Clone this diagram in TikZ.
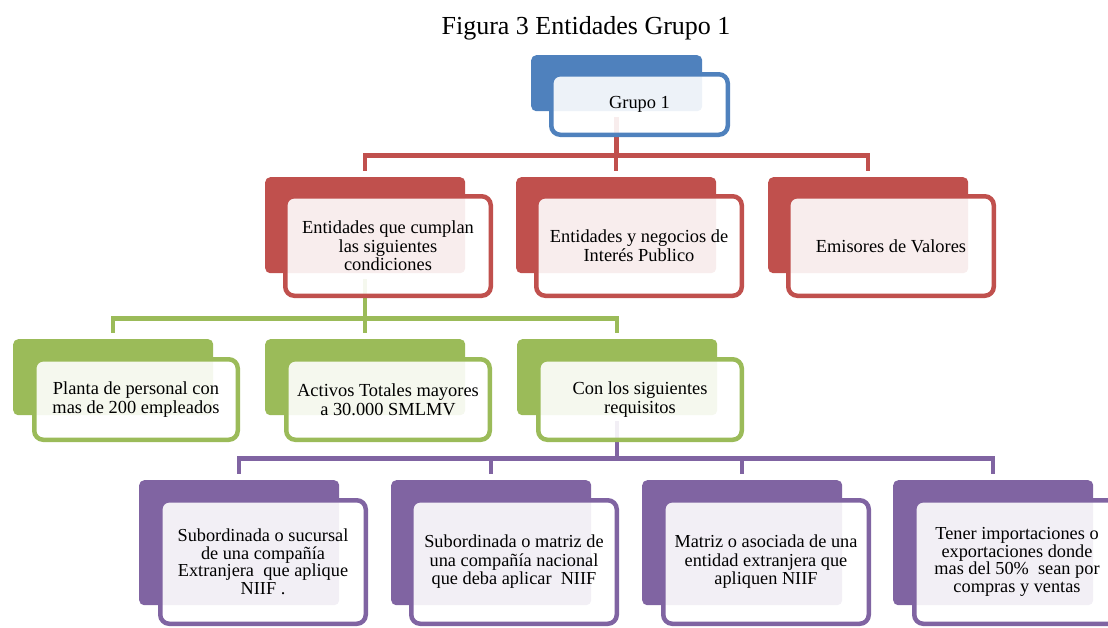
\documentclass[tikz,border=0pt]{standalone}
\usepackage{fontspec}
\setmainfont{Liberation Serif}
\definecolor{cblue}{HTML}{4F81BD}
\definecolor{cred}{HTML}{C0504D}
\definecolor{cgreen}{HTML}{9BBB59}
\definecolor{cpurple}{HTML}{8064A2}
\tikzset{
  backbox/.style={draw=none, fill=#1, rounded corners=5pt, anchor=north west, inner sep=0pt},
  frontbox/.style={draw=#1, line width=4.5pt, fill=white, fill opacity=0.9, text opacity=1,
    draw opacity=1, rounded corners=9pt, inner sep=0pt, align=center},
  conn/.style={draw=#1, line width=4.5pt},
  lvla/.style={minimum width=176.5pt, minimum height=60.5pt},
  lvlb/.style={minimum width=205.5pt, minimum height=99.5pt, font=\fontsize{18.4}{18.6}\selectfont},
  lvlc/.style={minimum width=203.5pt, minimum height=80.5pt, font=\fontsize{18.4}{18.6}\selectfont},
  lvld/.style={minimum width=205.5pt, minimum height=123.5pt, font=\fontsize{18.3}{17.5}\selectfont},
}
\begin{document}
\begin{tikzpicture}[x=1pt,y=-1pt]
\useasboundingbox (0,0) rectangle (1108,627);
\clip (0,0) rectangle (1108,627);
% title
\node[font=\fontsize{26}{30}\selectfont, anchor=base] (title) at (586,34) {Figura 3 Entidades Grupo 1};
% back boxes
\node[backbox=cblue, minimum width=171pt, minimum height=56pt] (gb) at (531,55) {};
\node[backbox=cred, minimum width=200pt, minimum height=96pt] (r1b) at (265,177) {};
\node[backbox=cred, minimum width=200pt, minimum height=96pt] (r2b) at (516,177) {};
\node[backbox=cred, minimum width=200pt, minimum height=96pt] (r3b) at (768,177) {};
\node[backbox=cgreen, minimum width=200pt, minimum height=76pt] (g1b) at (13,339) {};
\node[backbox=cgreen, minimum width=200pt, minimum height=76pt] (g2b) at (265,339) {};
\node[backbox=cgreen, minimum width=200pt, minimum height=76pt] (g3b) at (517,339) {};
\node[backbox=cpurple, minimum width=200pt, minimum height=125pt] (p1b) at (139,480) {};
\node[backbox=cpurple, minimum width=200pt, minimum height=125pt] (p2b) at (391,480) {};
\node[backbox=cpurple, minimum width=200pt, minimum height=125pt] (p3b) at (642,480) {};
\node[backbox=cpurple, minimum width=200pt, minimum height=125pt] (p4b) at (893,480) {};
% connectors
\foreach \c in {r1b,r2b,r3b}
  \draw[conn=cred] ([yshift=-6pt]gb.south) -- ++(0,38) -| ([yshift=6pt]\c.north);
\foreach \c in {g1b,g2b,g3b}
  \draw[conn=cgreen] ([yshift=-6pt]r1b.south) -- ++(0,39) -| ([yshift=6pt]\c.north);
\foreach \c in {p1b,p2b,p3b,p4b}
  \draw[conn=cpurple] ([yshift=-6pt]g3b.south) -- ++(0,37) -| ([yshift=6pt]\c.north);
% front boxes
\node[frontbox=cblue, lvla, font=\fontsize{18.4}{18.6}\selectfont] (g) at (639.5,104.5) {Grupo 1};
\node[frontbox=cred, lvlb] (r1) at (388,246) {Entidades que cumplan\\las siguientes\\condiciones};
\node[frontbox=cred, lvlb] (r2) at (639,246) {Entidades y negocios de\\Interés Publico};
\node[frontbox=cred, lvlb] (r3) at (891,246) {Emisores de Valores};
\node[frontbox=cgreen, lvlc] (g1) at (136,399.5) {Planta de personal con\\mas de 200 empleados};
\node[frontbox=cgreen, lvlc] (g2) at (388,399.5) {Activos Totales mayores\\a 30.000 SMLMV};
\node[frontbox=cgreen, lvlc] (g3) at (640,399.5) {Con los siguientes\\requisitos};
\node[frontbox=cpurple, lvld] (p1) at (263,562) {Subordinada o sucursal\\de una compañía\\Extranjera\ \ que aplique\\NIIF .};
\node[frontbox=cpurple, lvld, font=\fontsize{18.3}{18.5}\selectfont] (p2) at (514,562) {Subordinada o matriz de\\una compañía nacional\\que deba aplicar\ \ NIIF};
\node[frontbox=cpurple, lvld, font=\fontsize{18.3}{18.5}\selectfont] (p3) at (766,562) {Matriz o asociada de una\\entidad extranjera que\\apliquen NIIF};
\node[frontbox=cpurple, lvld] (p4) at (1017,562) {Tener importaciones o\\exportaciones donde\\mas del 50\%\ \ sean por\\compras y ventas};
\end{tikzpicture}
\end{document}
